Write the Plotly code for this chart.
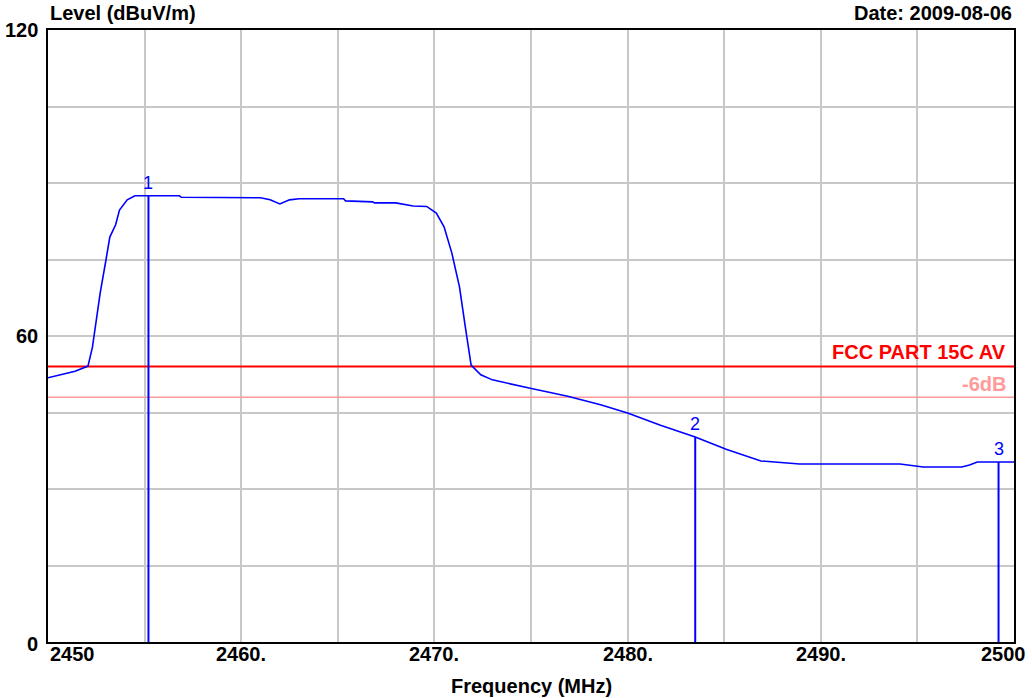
import plotly.graph_objects as go

# ---- data ----
freq_mhz = [2450.0, 2450.6, 2451.4, 2452.07, 2452.2, 2452.3, 2452.5, 2452.7, 2453.0, 2453.2,
            2453.5, 2453.7, 2454.1, 2454.5, 2456.8, 2456.9, 2461.0, 2461.5, 2462.0, 2462.5,
            2463.0, 2465.3, 2465.4, 2466.8, 2466.9, 2468.0, 2468.9, 2469.6, 2470.1, 2470.5,
            2470.9, 2471.3, 2471.6, 2471.9, 2472.4, 2473.0, 2474.9, 2476.9, 2478.6, 2480.0,
            2481.7, 2483.5, 2485.1, 2486.9, 2488.9, 2494.1, 2495.3, 2497.3, 2497.7, 2498.1,
            2500.0]
level_dbuv = [51.8, 52.4, 53.1, 54.1, 55.9, 57.8, 63.1, 68.4, 74.9, 79.4,
              81.8, 84.7, 86.7, 87.5, 87.5, 87.2, 87.1, 86.7, 85.9, 86.7,
              86.9, 86.9, 86.5, 86.3, 86.1, 86.1, 85.5, 85.4, 84.1, 81.4,
              76.3, 69.6, 61.8, 54.3, 52.4, 51.4, 49.8, 48.2, 46.5, 44.9,
              42.5, 40.2, 37.8, 35.5, 34.9, 34.9, 34.3, 34.3, 34.7, 35.3,
              35.3]

marker_labels = ["1", "2", "3"]
marker_freq = [2455.2, 2483.5, 2499.2]
marker_level = [87.5, 40.2, 35.3]

limit_level = 54.0
limit_label = "FCC PART 15C AV"
margin_level = 48.0
margin_label = "-6dB"

x_tick_vals = [2450, 2460, 2470, 2480, 2490, 2500]
x_tick_text = ["2450", "2460.", "2470.", "2480.", "2490.", "2500"]
y_tick_vals = [0, 60, 120]
y_tick_text = ["0", "60", "120"]

X_MIN, X_MAX = 2450, 2500
Y_MIN, Y_MAX = 0, 120

FONT = "Liberation Sans, Arial, sans-serif"
FS = 20

fig = go.Figure()

# limit lines
fig.add_trace(go.Scatter(x=[X_MIN, X_MAX], y=[limit_level, limit_level], mode="lines",
                         line=dict(color="#ff0000", width=2), hoverinfo="skip", showlegend=False))
fig.add_trace(go.Scatter(x=[X_MIN, X_MAX], y=[margin_level, margin_level], mode="lines",
                         line=dict(color="#ff9a9a", width=1.5), hoverinfo="skip", showlegend=False))

# trace
fig.add_trace(go.Scatter(x=freq_mhz, y=level_dbuv, mode="lines",
                         line=dict(color="#0000ff", width=1.6), showlegend=False))

# marker lines
for lab, f, lv in zip(marker_labels, marker_freq, marker_level):
    fig.add_trace(go.Scatter(x=[f, f], y=[0, lv], mode="lines",
                             line=dict(color="#0000ff", width=2), showlegend=False, hoverinfo="skip"))
    fig.add_annotation(x=f, y=lv, text=lab, showarrow=False, xanchor="center", yanchor="middle",
                       yshift=13, font=dict(family=FONT, size=18, color="#0000ff"))

# limit labels
fig.add_annotation(x=X_MAX, y=limit_level, text="<b>" + limit_label + "</b>", showarrow=False,
                   xanchor="right", yanchor="middle", xshift=-6, yshift=15,
                   font=dict(family=FONT, size=FS, color="#ff0000"))
fig.add_annotation(x=X_MAX, y=margin_level, text="<b>" + margin_label + "</b>", showarrow=False,
                   xanchor="right", yanchor="middle", xshift=-6, yshift=13,
                   font=dict(family=FONT, size=FS, color="#ff9a9a"))

# x tick labels
for v, t in zip(x_tick_vals, x_tick_text):
    if v == X_MIN:
        xa, xs = "left", 0
    elif v == X_MAX:
        xa, xs = "right", 14
    else:
        xa, xs = "center", 0
    fig.add_annotation(x=v, y=0, xref="x", yref="paper", text="<b>" + t + "</b>", showarrow=False,
                       xanchor=xa, yanchor="middle", xshift=xs, yshift=-12,
                       font=dict(family=FONT, size=FS, color="#000000"))

# y tick labels
for v, t in zip(y_tick_vals, y_tick_text):
    fig.add_annotation(x=0, y=v, xref="paper", yref="y", text="<b>" + t + "</b>", showarrow=False,
                       xanchor="right", yanchor="middle", xshift=-8, yshift=-2 if v == 0 else 0,
                       font=dict(family=FONT, size=FS, color="#000000"))

# titles
fig.add_annotation(x=0, y=1, xref="paper", yref="paper", text="<b>Level (dBuV/m)</b>", showarrow=False,
                   xanchor="left", yanchor="middle", yshift=17,
                   font=dict(family=FONT, size=FS, color="#000000"))
fig.add_annotation(x=1, y=1, xref="paper", yref="paper", text="<b>Date: 2009-08-06</b>", showarrow=False,
                   xanchor="right", yanchor="middle", yshift=17,
                   font=dict(family=FONT, size=FS, color="#000000"))
fig.add_annotation(x=0.5, y=0, xref="paper", yref="paper", text="<b>Frequency (MHz)</b>", showarrow=False,
                   xanchor="center", yanchor="middle", yshift=-44,
                   font=dict(family=FONT, size=FS, color="#000000"))

fig.update_layout(
    width=1032, height=698,
    margin=dict(l=48, r=18, t=30, b=56),
    paper_bgcolor="white", plot_bgcolor="white",
    xaxis=dict(range=[X_MIN, X_MAX], dtick=5, tick0=2450, showgrid=True, gridcolor="#c8c8c8",
               gridwidth=2, showticklabels=False, ticks="", zeroline=False,
               showline=True, linecolor="#000000", linewidth=2, mirror=True),
    yaxis=dict(range=[Y_MIN, Y_MAX], dtick=15, tick0=0, showgrid=True, gridcolor="#c8c8c8",
               gridwidth=2, showticklabels=False, ticks="", zeroline=False,
               showline=True, linecolor="#000000", linewidth=2, mirror=True),
    showlegend=False,
)

fig.write_html("out.html", config={"displayModeBar": False},
               post_script="document.body.style.margin='0';document.body.style.overflow='hidden';")
